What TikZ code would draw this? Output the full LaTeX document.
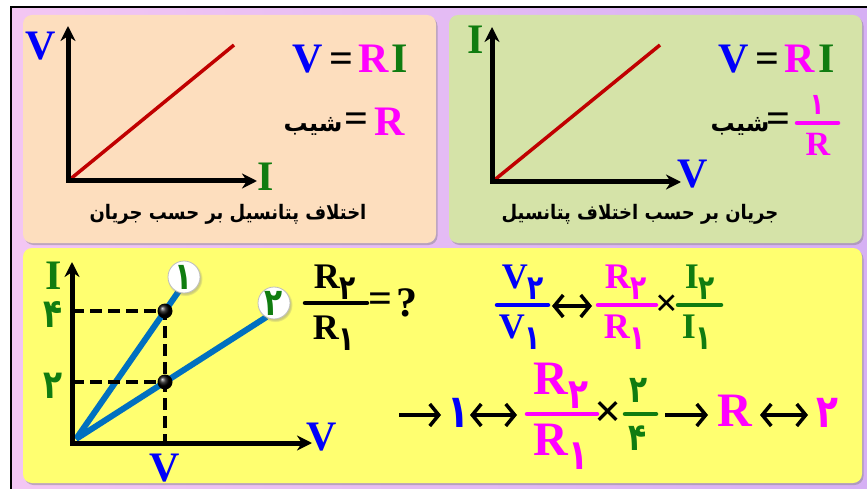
\documentclass[tikz,border=0pt]{standalone}
\usepackage{fontspec}
\usepackage{graphicx}
\setmainfont{Liberation Serif}
\newfontfamily\fafont[Script=Arabic]{DejaVu Sans}
\TeXXeTstate=1
\usepackage{tikz}
\usetikzlibrary{calc,positioning,arrows.meta,shadows}
\definecolor{ohmblue}{RGB}{0,0,250}
\definecolor{ohmgreen}{RGB}{16,124,16}
\definecolor{ohmmag}{RGB}{255,0,255}
\definecolor{ohmred}{RGB}{192,0,0}
\definecolor{ohmsteel}{RGB}{0,112,192}
\definecolor{ohmpeach}{RGB}{253,222,190}
\definecolor{ohmsage}{RGB}{213,227,168}
\definecolor{ohmlemon}{RGB}{255,255,112}
\definecolor{ohmpink}{RGB}{243,198,243}
\definecolor{ohmlilac}{RGB}{214,176,244}
\newcommand\sz[1]{\fontsize{#1}{#1}\selectfont}
\newcommand\fa[1]{{\fafont\bfseries\beginR#1\endR}}
\newcommand\pd[1]{{\fafont\bfseries\scalebox{.78}[1]{#1}}}
\newcommand\sd[2]{\raisebox{-.3em}{\fafont\bfseries\sz{#1}\scalebox{.78}[1]{#2}}}
\tikzset{
 ohm panel/.style={rounded corners=9pt,inner sep=0pt,outer sep=0pt,
                   drop shadow={shadow xshift=1.5pt,shadow yshift=-2pt,opacity=.45}},
 ohm axis/.style={line width=5pt,line join=miter,<->,>={Stealth[length=15pt,width=15pt]}},
 ohm graph/.style={line width=3.5pt,ohmred},
 ohm ray/.style={line width=6pt,ohmsteel},
 ohm guide/.style={line width=3.5pt,dash pattern=on 12pt off 6pt},
 ohm bar/.style={line width=4.5pt,line cap=round},
 ohm arrow/.style={line width=3.5pt,-{Straight Barb[length=9pt,width=22pt]}},
 ohm dual/.style={line width=3.5pt,{Straight Barb[length=9pt,width=22pt]}-{Straight Barb[length=9pt,width=22pt]}},
 ohm dot/.style={circle,shading=ball,ball color=black,minimum size=15pt,inner sep=0pt},
 ohm tag/.style={circle,fill=white,draw=black!25,line width=.8pt,minimum size=32pt,inner sep=0pt,
                 circular drop shadow={shadow xshift=1pt,shadow yshift=-1.5pt,opacity=.4},
                 text=ohmgreen,font=\sz{38}},
 ohm big/.style={inner sep=0pt,font=\bfseries\sz{42}},
 ohm mid/.style={inner sep=0pt,font=\bfseries\sz{36}},
 ohm fa/.style={inner sep=0pt,font=\sz{24}},
 ohm title/.style={inner sep=0pt,font=\sz{20}}
}
\begin{document}
\begin{tikzpicture}[x=1pt,y=-1pt]
 \useasboundingbox (0,0) rectangle (867,489);
 \shade[left color=ohmpink,right color=ohmlilac] (11,7) rectangle (867,489);
 \draw[line width=2pt] (11,489) -- (11,7) -- (867,7);

 \node[ohm panel,fill=ohmpeach,minimum width=413pt,minimum height=228pt] (pVI) at (229.5,129) {};
 \node[ohm panel,fill=ohmsage,minimum width=413pt,minimum height=228pt] (pIV) at (655.5,129) {};
 \node[ohm panel,fill=ohmlemon,minimum width=839pt,minimum height=235pt] (pQ) at (442.5,365.5) {};

 \coordinate (o1) at (68,181);
 \coordinate (y1) at (68,26);
 \coordinate (x1) at (257,181);
 \coordinate (e1) at (234,45);
 \draw[ohm graph] (o1) -- (e1);
 \draw[ohm axis] (y1) -- (o1) -- (x1);
 \node[ohm big,text=ohmblue] (vA) at (41,46) {V};
 \node[ohm big,text=ohmgreen] (iA) at (266,177) {I};
 \node[ohm big] (lawA) at (350,59.5) {\textcolor{ohmblue}{V}\kern7pt=\kern5pt\textcolor{ohmmag}{R}\kern3pt\textcolor{ohmgreen}{I}};
 \node[ohm big,text=ohmmag] (rA) at (390,121.5) {R};
 \node[ohm big] (eqA) at (356,122.5) {=};
 \node[ohm fa] (slA) at (313,126) {\fa{شیب}};
 \node[ohm title] (tA) at (228,214) {\scalebox{.9}[1]{\fa{اختلاف پتانسیل بر حسب جریان}}};

 \coordinate (o2) at (492,182);
 \coordinate (y2) at (492,27);
 \coordinate (x2) at (681,182);
 \coordinate (e2) at (660,45);
 \draw[ohm graph] (o2) -- (e2);
 \draw[ohm axis] (y2) -- (o2) -- (x2);
 \node[ohm big,text=ohmgreen] (iB) at (476,40) {I};
 \node[ohm big,text=ohmblue] (vB) at (693,174) {V};
 \node[ohm big] (lawB) at (776.5,59.5) {\textcolor{ohmblue}{V}\kern7pt=\kern5pt\textcolor{ohmmag}{R}\kern3pt\textcolor{ohmgreen}{I}};
 \coordinate (bB1) at (797,123);
 \coordinate (bB2) at (838,123);
 \draw[ohm bar,ohmmag] (bB1) -- (bB2);
 \node[inner sep=0pt,text=ohmmag,font=\sz{30}] (nB) at (817,104.5) {\pd{۱}};
 \node[inner sep=0pt,text=ohmmag,font=\bfseries\sz{34}] (dB) at (818,144) {R};
 \node[ohm big] (eqB) at (778.5,122.5) {=};
 \node[ohm fa] (slB) at (740,126) {\fa{شیب}};
 \node[ohm title] (tB) at (640,214) {\scalebox{.9}[1]{\fa{جریان بر حسب اختلاف پتانسیل}}};

 \coordinate (o3) at (72,443);
 \coordinate (y3) at (72,262);
 \coordinate (x3) at (312,443);
 \coordinate (ob) at (76,439);
 \coordinate (p1) at (165,311);
 \coordinate (p2) at (165,382);
 \draw[ohm ray] (ob) -- ($(ob)!1.17!(p1)$);
 \draw[ohm ray] (ob) -- ($(ob)!2.14!(p2)$);
 \draw[ohm guide] (p1 -| o3) -- (p1) -- (p1 |- o3);
 \draw[ohm guide] (p2 -| o3) -- (p2);
 \draw[ohm axis] (y3) -- (o3) -- (x3);
 \node[ohm dot] (d1) at (p1) {};
 \node[ohm dot] (d2) at (p2) {};
 \node[ohm tag] (k1) at (184,277) {\pd{۱}};
 \node[ohm tag] (k2) at (274,303) {\pd{۲}};
 \node[ohm big,text=ohmgreen] (iC) at (54,276) {I};
 \node[ohm big,text=ohmblue] (vC) at (322,437) {V};
 \node[ohm big,text=ohmblue] (vD) at (165,468) {V};
 \node[inner sep=0pt,text=ohmgreen,font=\sz{40}] (g4) at (53,314) {\pd{۴}};
 \node[inner sep=0pt,text=ohmgreen,font=\sz{40}] (g2) at (53,386) {\pd{۲}};

 \coordinate (bQ1) at (305,303);
 \coordinate (bQ2) at (367,303);
 \draw[ohm bar] (bQ1) -- (bQ2);
 \node[ohm mid] (nQ) at (335,282) {R\sd{34}{۲}};
 \node[ohm mid] (dQ) at (334,333) {R\sd{34}{۱}};
 \node[ohm big] (eqQ) at (380,303) {=};
 \node[ohm big] (qQ) at (407,303) {?};

 \coordinate (bV1) at (497,305);
 \coordinate (bV2) at (548,305);
 \draw[ohm bar,ohmblue] (bV1) -- (bV2);
 \node[ohm mid,text=ohmblue] (nV) at (523,282.5) {V\sd{34}{۲}};
 \node[ohm mid,text=ohmblue] (dV) at (520,332.5) {V\sd{34}{۱}};
 \coordinate (aL1) at (552,306);
 \coordinate (aR1) at (592,306);
 \draw[ohm dual] (aL1) -- (aR1);
 \coordinate (bR1) at (598,305);
 \coordinate (bR2) at (656,305);
 \draw[ohm bar,ohmmag] (bR1) -- (bR2);
 \node[ohm mid,text=ohmmag] (nR) at (626,282.5) {R\sd{34}{۲}};
 \node[ohm mid,text=ohmmag] (dR) at (625,332.5) {R\sd{34}{۱}};
 \node[inner sep=0pt,font=\bfseries\sz{40}] (xA) at (666.5,306) {×};
 \coordinate (bI1) at (678,305);
 \coordinate (bI2) at (721,305);
 \draw[ohm bar,ohmgreen] (bI1) -- (bI2);
 \node[ohm mid,text=ohmgreen] (nI) at (700,282.5) {I\sd{34}{۲}};
 \node[ohm mid,text=ohmgreen] (dI) at (697,332.5) {I\sd{34}{۱}};

 \coordinate (aL2) at (399,415);
 \coordinate (aR2) at (441,415);
 \draw[ohm arrow] (aL2) -- (aR2);
 \node[inner sep=0pt,text=ohmblue,font=\sz{46}] (one) at (458,413) {\pd{۱}};
 \coordinate (aL3) at (470,415);
 \coordinate (aR3) at (517,415);
 \draw[ohm dual] (aL3) -- (aR3);
 \coordinate (bS1) at (527,414);
 \coordinate (bS2) at (597,414);
 \draw[ohm bar,ohmmag] (bS1) -- (bS2);
 \node[inner sep=0pt,text=ohmmag,font=\bfseries\sz{48}] (nS) at (561,385.5) {R\sd{42}{۲}};
 \node[inner sep=0pt,text=ohmmag,font=\bfseries\sz{48}] (dS) at (561,446.5) {R\sd{42}{۱}};
 \node[inner sep=0pt,font=\bfseries\sz{48}] (xB) at (608.5,415) {×};
 \coordinate (bG1) at (625,414);
 \coordinate (bG2) at (656,414);
 \draw[ohm bar,ohmgreen] (bG1) -- (bG2);
 \node[inner sep=0pt,text=ohmgreen,font=\sz{38}] (nG) at (639,390) {\pd{۲}};
 \node[inner sep=0pt,text=ohmgreen,font=\sz{38}] (dG) at (638,438) {\pd{۴}};
 \coordinate (aL4) at (665,415);
 \coordinate (aR4) at (708,415);
 \draw[ohm arrow] (aL4) -- (aR4);
 \node[inner sep=0pt,text=ohmmag,font=\bfseries\sz{48}] (rS) at (735,411) {R};
 \coordinate (aL5) at (760,415);
 \coordinate (aR5) at (808,415);
 \draw[ohm dual] (aL5) -- (aR5);
 \node[inner sep=0pt,text=ohmmag,font=\sz{46}] (two) at (827,413) {\pd{۲}};
\end{tikzpicture}
\end{document}
